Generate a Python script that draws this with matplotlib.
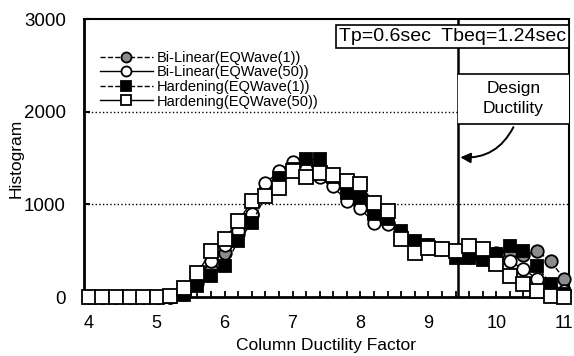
import matplotlib.pyplot as plt
import numpy as np

plt.rcParams['font.family'] = ['Liberation Sans', 'DejaVu Sans']

# ── Data ───────────────────────────────────────────────────
ductility = [4.0, 4.2, 4.4, 4.6, 4.8, 5.0, 5.2, 5.4, 5.6, 5.8, 6.0, 6.2,
             6.4, 6.6, 6.8, 7.0, 7.2, 7.4, 7.6, 7.8, 8.0, 8.2, 8.4, 8.6,
             8.8, 9.0, 9.2, 9.4, 9.6, 9.8, 10.0, 10.2, 10.4, 10.6, 10.8, 11.0]

bilinear_1 = [0, 0, 0, 0, 0, 0, 0, 30, 150, 300, 470, 680,
              890, 1150, 1300, 1420, 1420, 1350, 1250, 1080, 1000, 850, 800, 690,
              580, 560, 530, 440, 430, 420, 470, 480, 450, 495, 387, 194]
bilinear_50 = [0, 0, 0, 0, 0, 0, 0, 60, 200, 387, 560, 710,
               900, 1226, 1355, 1462, 1376, 1290, 1193, 1032, 957, 796, 785, 660,
               560, 527, 520, 480, 500, 473, 430, 387, 301, 194, 90, 65]
hardening_1 = [0, 0, 0, 0, 0, 0, 0, 20, 118, 226, 333, 602,
               800, 1086, 1280, 1380, 1484, 1484, 1300, 1118, 1065, 892, 839, 710,
               602, 560, 520, 419, 419, 400, 462, 548, 495, 333, 140, 30]
hardening_50 = [0, 0, 0, 0, 0, 0, 10, 97, 258, 495, 630, 817,
                1032, 1086, 1172, 1355, 1300, 1340, 1320, 1247, 1215, 1010, 925, 624,
                473, 527, 516, 495, 548, 516, 355, 226, 140, 65, 10, 0]

design_ductility = 9.43
note_text = 'Tp=0.6sec  Tbeq=1.24sec'

# ── Figure ─────────────────────────────────────────────────
fig = plt.figure(figsize=(5.74, 3.56), dpi=100)
ax = fig.add_axes([84 / 574, 1 - 297 / 356, 485 / 574, 278 / 356])

ax.plot(ductility, bilinear_1, linestyle='--', color='black', linewidth=1,
        marker='o', markersize=9, markerfacecolor='#8c8c8c',
        markeredgecolor='black', markeredgewidth=1.3, clip_on=False,
        label='Bi-Linear(EQWave(1))', zorder=3)
ax.plot(ductility, bilinear_50, linestyle='-', color='black', linewidth=1,
        marker='o', markersize=9, markerfacecolor='white',
        markeredgecolor='black', markeredgewidth=1.3, clip_on=False,
        label='Bi-Linear(EQWave(50))', zorder=4)
ax.plot(ductility, hardening_1, linestyle='--', color='black', linewidth=1,
        marker='s', markersize=9, markerfacecolor='black',
        markeredgecolor='black', markeredgewidth=1.3, clip_on=False,
        label='Hardening(EQWave(1))', zorder=5)
ax.plot(ductility, hardening_50, linestyle='-', color='black', linewidth=1,
        marker='s', markersize=9.5, markerfacecolor='white',
        markeredgecolor='black', markeredgewidth=1.3, clip_on=False,
        label='Hardening(EQWave(50))', zorder=6)

# dotted grid lines
ax.axhline(1000, color='black', linestyle=':', linewidth=1, zorder=1)
ax.axhline(2000, color='black', linestyle=':', linewidth=1, zorder=1)

# design ductility line + box
ax.axvline(design_ductility, color='black', linewidth=1.8, zorder=2)
ax.fill_between([design_ductility, 11.07], 1870, 2410, facecolor='white',
                edgecolor='none', zorder=6.5)
ax.text((design_ductility + 11.07) / 2, 2140, 'Design\nDuctility',
        ha='center', va='center', fontsize=12.5, linespacing=1.4, zorder=7)
ax.plot([design_ductility, 11.07], [2410, 2410], color='black', linewidth=1.2, zorder=7)
ax.plot([design_ductility, 11.07], [1870, 1870], color='black', linewidth=1.2, zorder=7)
ax.annotate('', xy=(design_ductility, 1510), xytext=(10.27, 1860),
            arrowprops=dict(arrowstyle='-|>', color='black', linewidth=1.4,
                            connectionstyle='arc3,rad=-0.35',
                            mutation_scale=15),
            zorder=8)

# Tp box
ax.text(0.994, 0.937, note_text, transform=ax.transAxes, ha='right', va='center',
        fontsize=14,
        bbox=dict(boxstyle='square,pad=0.15', facecolor='white', edgecolor='black',
                  linewidth=1.2), zorder=9)

# ── Axes ───────────────────────────────────────────────────
ax.set_xlim(3.93, 11.07)
ax.set_ylim(0, 3000)
ax.set_xticks([4, 5, 6, 7, 8, 9, 10, 11])
ax.set_xticks(np.arange(4.0, 11.01, 0.2), minor=True)
ax.set_yticks([0, 1000, 2000, 3000])
ax.tick_params(axis='x', which='both', direction='in', length=4, width=1.3,
               labelsize=13, pad=13)
ax.tick_params(axis='y', which='major', direction='in', length=4, width=1.5,
               labelsize=13.5, pad=13)
for side in ['left', 'bottom']:
    ax.spines[side].set_linewidth(2)
for side in ['top', 'right']:
    ax.spines[side].set_linewidth(1.5)

ax.set_xlabel('Column Ductility Factor', fontsize=12.5, labelpad=4)
ax.set_ylabel('Histogram', fontsize=12.5, labelpad=0)

ax.legend(loc='upper left', bbox_to_anchor=(0.018, 0.912), frameon=False,
          fontsize=10.5, handlelength=3.6, labelspacing=0.04, borderpad=0,
          handletextpad=0.3, markerscale=0.8)

fig.savefig('out.png', dpi=100)
